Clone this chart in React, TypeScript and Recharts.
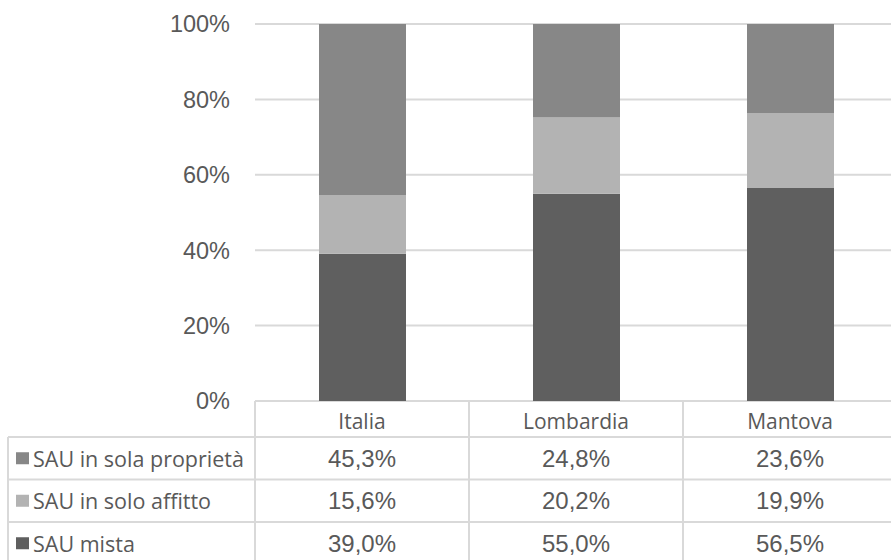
import { BarChart, Bar, XAxis, YAxis, CartesianGrid } from 'recharts';

const categories = ['Italia', 'Lombardia', 'Mantova'];
const solaProprieta = [45.3, 24.8, 23.6];
const soloAffitto = [15.6, 20.2, 19.9];
const mista = [39.0, 55.0, 56.5];
const yTicks = [0, 0.2, 0.4, 0.6, 0.8, 1];

// table rows, top to bottom (same order as the stack, top to bottom)
const series = [
  { key: 'proprieta', name: 'SAU in sola proprietà', color: '#878787', values: solaProprieta },
  { key: 'affitto', name: 'SAU in solo affitto', color: '#b3b3b3', values: soloAffitto },
  { key: 'mista', name: 'SAU mista', color: '#5f5f5f', values: mista },
];

const data = categories.map((name, i) => ({
  name,
  proprieta: solaProprieta[i],
  affitto: soloAffitto[i],
  mista: mista[i],
}));

const W = 900;
const H = 560;
const TOP = 24;
const LEFT_AXIS = 255;
const RIGHT = 3;
const AXIS_H = 159;
const HEADER_H = 36;
const ROW_H = 42.5;
const LABEL_COL = 247;
const LINE = '#d9d9d9';
const TEXT = '#595959';
const SANS = '"Liberation Sans", Arial, sans-serif';
const HUMAN = '"Open Sans", "Noto Sans", sans-serif';

const fmt = (v: number) => v.toFixed(1).replace('.', ',') + '%';

function TableTick(props: any) {
  const { x, y, payload, index } = props;
  const half = payload?.offset || (W - LEFT_AXIS - RIGHT) / categories.length / 2;
  const i = payload?.index ?? index;
  const left = x - half;
  const right = x + half;
  const rowTops = series.map((_, r) => y + HEADER_H + r * ROW_H);
  const bottom = y + HEADER_H + series.length * ROW_H + 4;
  return (
    <g>
      <line x1={left} y1={y} x2={left} y2={bottom} stroke={LINE} strokeWidth={2} />
      {i === categories.length - 1 && (
        <line x1={right} y1={y} x2={right} y2={bottom} stroke={LINE} strokeWidth={2} />
      )}
      {rowTops.map((ry, r) => (
        <line key={r} x1={left} y1={ry} x2={right} y2={ry} stroke={LINE} strokeWidth={2} />
      ))}
      <text x={x} y={y + HEADER_H / 2 + 2} textAnchor="middle" dominantBaseline="central"
        fill={TEXT} fontFamily={HUMAN} fontSize={21}>
        {payload.value}
      </text>
      {series.map((s, r) => (
        <text key={s.key} x={x} y={rowTops[r] + ROW_H / 2} textAnchor="middle"
          dominantBaseline="central" fill={TEXT} fontFamily={SANS} fontSize={24}>
          {fmt(s.values[i])}
        </text>
      ))}
      {i === 0 && (
        <g>
          <line x1={left - LABEL_COL} y1={rowTops[0]} x2={left - LABEL_COL} y2={bottom}
            stroke={LINE} strokeWidth={2} />
          {rowTops.map((ry, r) => (
            <line key={r} x1={left - LABEL_COL} y1={ry} x2={left} y2={ry} stroke={LINE} strokeWidth={2} />
          ))}
          {series.map((s, r) => (
            <g key={s.key}>
              <rect x={left - LABEL_COL + 8} y={rowTops[r] + ROW_H / 2 - 6} width={13} height={12} fill={s.color} />
              <text x={left - LABEL_COL + 25} y={rowTops[r] + ROW_H / 2} dominantBaseline="central"
                fill={TEXT} fontFamily={HUMAN} fontSize={21.5}>
                {s.name}
              </text>
            </g>
          ))}
        </g>
      )}
    </g>
  );
}

export default function App() {
  return (
    <div style={{ position: 'absolute', left: 0, top: 0, width: 891, height: 560, overflow: 'hidden', background: '#fff' }}>
      <BarChart width={W} height={H} data={data} stackOffset="expand"
        margin={{ top: TOP, right: RIGHT, left: 0, bottom: 0 }} barSize={87}>
        <CartesianGrid vertical={false} stroke={LINE} strokeWidth={2} />
        <XAxis dataKey="name" height={AXIS_H} axisLine={false} tickLine={false}
          tickSize={0} tickMargin={0} interval={0} tick={(p: any) => <TableTick {...p} />} />
        <YAxis width={LEFT_AXIS} domain={[0, 1]} ticks={yTicks} axisLine={false} tickLine={false}
          tickSize={0} tickMargin={25} tickFormatter={(v: number) => `${Math.round(v * 100)}%`}
          tick={{ fill: TEXT, fontFamily: SANS, fontSize: 23.5 }} />
        {[...series].reverse().map((s) => (
          <Bar key={s.key} dataKey={s.key} name={s.name} stackId="a" fill={s.color} isAnimationActive={false} />
        ))}
      </BarChart>
    </div>
  );
}
